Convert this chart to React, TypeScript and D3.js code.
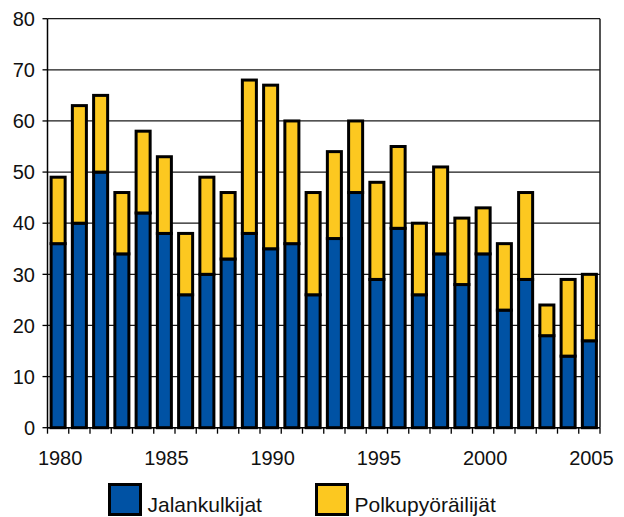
import React from "react";
import * as d3 from "d3";

const years = d3.range(1980, 2006).map(String);
const jalankulkijat = [36, 40, 50, 34, 42, 38, 26, 30, 33, 38, 35, 36, 26, 37, 46, 29, 39, 26, 34, 28, 34, 23, 29, 18, 14, 17];
const polkupyorailijat = [13, 23, 15, 12, 16, 15, 12, 19, 13, 30, 32, 24, 20, 17, 14, 19, 16, 14, 17, 13, 9, 13, 17, 6, 15, 13];
const yTicks = [0, 10, 20, 30, 40, 50, 60, 70, 80];
const xLabels = ["1980", "1985", "1990", "1995", "2000", "2005"];
const seriesNames = ["Jalankulkijat", "Polkupyöräilijät"];
const colors = ["#0052a4", "#fcc820"];

const W = 624;
const H = 517;
const left = 47.5;
const right = 600;
const top = 18.7;
const bottom = 427.7;
const font = "'Liberation Sans', Arial, sans-serif";

export default function App() {
  const x = d3.scaleBand().domain(years).range([left, right]).paddingInner(0.34).paddingOuter(0.17);
  const y = d3.scaleLinear().domain([0, 80]).range([bottom, top]);

  const rows = years.map((yr, i) => ({ year: yr, j: jalankulkijat[i], p: polkupyorailijat[i] }));
  const stack = d3.stack().keys(["j", "p"])(rows);

  const step = (right - left) / years.length;

  return (
    <svg width={W} height={H} style={{ position: "absolute", left: 0, top: 0 }} fontFamily={font}>
      <rect width={W} height={H} fill="#fff" />
      {yTicks.map((t) => (
        <g key={t}>
          <line x1={left} x2={right} y1={y(t)} y2={y(t)} stroke="#1a1a1a" strokeWidth={1.3} />
          <line x1={left - 5} x2={left} y1={y(t)} y2={y(t)} stroke="#000" strokeWidth={1.3} />
          <text x={35} y={y(t) + 2} textAnchor="end" dominantBaseline="middle" fontSize={20} fill="#111">
            {t}
          </text>
        </g>
      ))}
      <line x1={right} x2={right} y1={top} y2={bottom} stroke="#1a1a1a" strokeWidth={1.5} />
      {stack.map((s, si) =>
        s.map((d, i) => (
          <rect
            key={si + "-" + i}
            x={x(years[i])}
            width={x.bandwidth()}
            y={y(d[1])}
            height={y(d[0]) - y(d[1])}
            fill={colors[si]}
            stroke="#000"
            strokeWidth={3}
          />
        ))
      )}
      <line x1={left} x2={left} y1={top} y2={bottom} stroke="#000" strokeWidth={1.5} />
      <line x1={left} x2={right} y1={bottom} y2={bottom} stroke="#000" strokeWidth={1.5} />
      {d3.range(years.length + 1).map((i) => (
        <line key={i} x1={left + i * step} x2={left + i * step} y1={bottom} y2={bottom + 6} stroke="#000" strokeWidth={1.3} />
      ))}
      {xLabels.map((l) => (
        <text key={l} x={x(l) + x.bandwidth() / 2 + 2} y={465} textAnchor="middle" fontSize={20} fill="#111">
          {l}
        </text>
      ))}
      {seriesNames.map((n, i) => {
        const lx = i === 0 ? 109.5 : 316.5;
        return (
          <g key={n}>
            <rect x={lx} y={484.5} width={31} height={30} fill={colors[i]} stroke="#000" strokeWidth={3} />
            <text x={lx + 38} y={512} fontSize={21} fill="#111">
              {n}
            </text>
          </g>
        );
      })}
    </svg>
  );
}
